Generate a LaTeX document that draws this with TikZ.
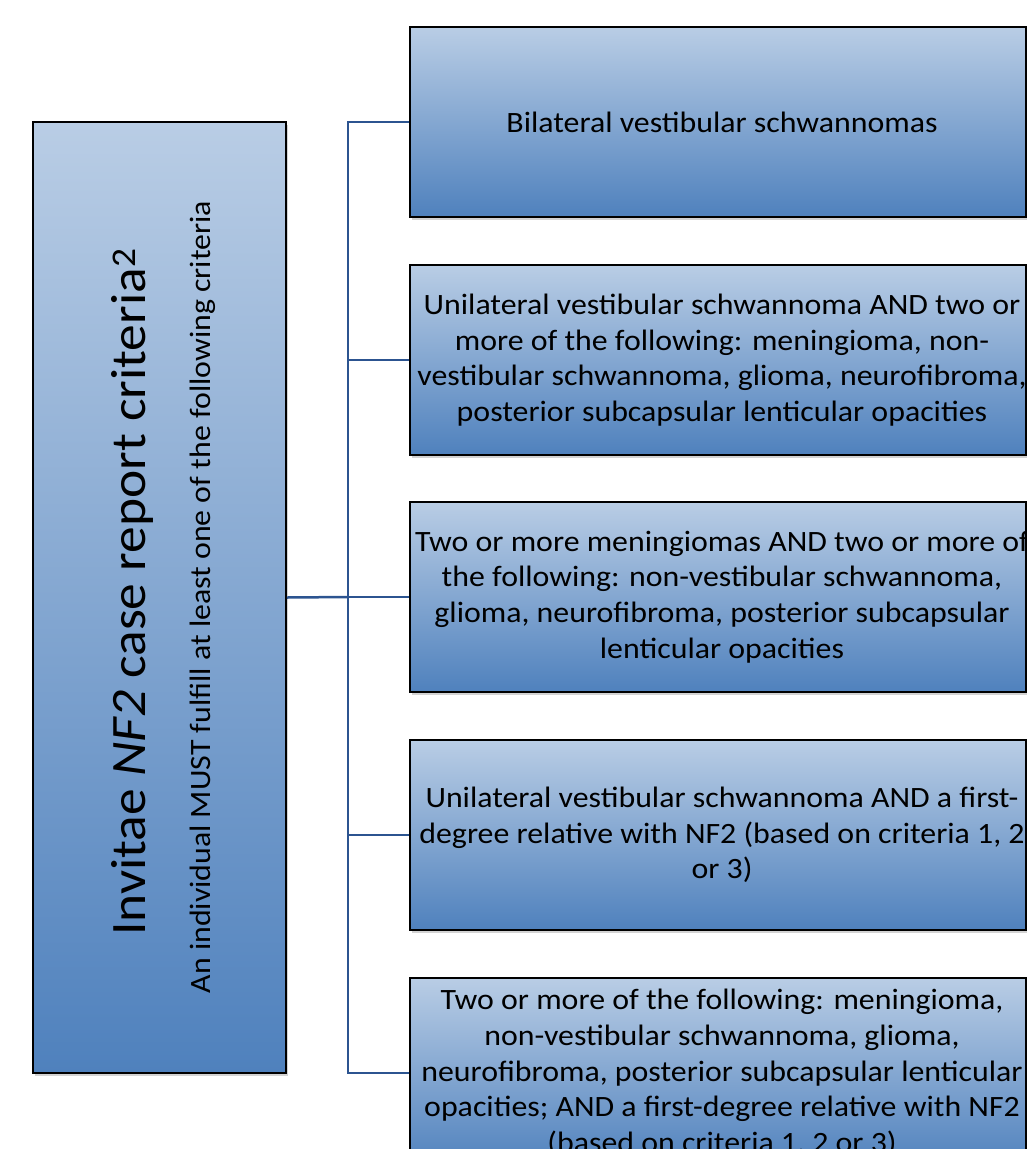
\documentclass[tikz,border=0pt]{standalone}
\usepackage{fontspec}
\setmainfont[FakeStretch=1.08]{Carlito}
\usetikzlibrary{shadows}
\definecolor{gtop}{HTML}{B9CDE5}
\definecolor{gbot}{HTML}{4F81BD}
\definecolor{conn}{HTML}{2C5490}
\tikzset{
  critbox/.style={draw=black, line width=1.8pt, top color=gtop, bottom color=gbot,
    minimum width=616pt, minimum height=190pt, inner sep=0pt,
    drop shadow={opacity=0.35, shadow xshift=2pt, shadow yshift=-3pt}},
  crittext/.style={inner sep=0pt, align=center, font=\fontsize{29.5}{35.7}\selectfont},
  mainbox/.style={draw=black, line width=1.8pt, top color=gtop, bottom color=gbot,
    minimum width=253pt, minimum height=951pt, inner sep=0pt,
    drop shadow={opacity=0.35, shadow xshift=2pt, shadow yshift=-3pt}},
  link/.style={draw=conn, line width=2.5pt},
}
\begin{document}
\begin{tikzpicture}[x=1pt,y=-1pt]
\useasboundingbox (0,0) rectangle (1027,1149);
\clip (0,0) rectangle (1027,1149);
\node[mainbox] (main) at (159.5,597.5) {};
\node[rotate=90, anchor=base, font=\fontsize{49.5}{55}\selectfont, inner sep=0pt] (title) at (145,592) {Invitae \textit{NF2} case report criteria\textsuperscript{2}};
\node[rotate=90, anchor=base, font=\fontsize{29.5}{35}\selectfont, inner sep=0pt] (sub) at (210,597) {An individual MUST fulfill at least one of the following criteria};

\node[critbox] (c1) at (718,122) {};
\node[critbox] (c2) at (718,360) {};
\node[critbox] (c3) at (718,597) {};
\node[critbox] (c4) at (718,835) {};
\node[critbox] (c5) at (718,1073) {};

\node[crittext] (t1) at ([xshift=4pt]c1.center) {Bilateral vestibular schwannomas};
\node[crittext] (t2) at ([xshift=4pt]c2.center) {Unilateral vestibular schwannoma AND two or\\more of the following: meningioma, non-\\vestibular schwannoma, glioma, neurofibroma,\\posterior subcapsular lenticular opacities};
\node[crittext] (t3) at ([xshift=4pt]c3.center) {Two or more meningiomas AND two or more of\\the following: non-vestibular schwannoma,\\glioma, neurofibroma, posterior subcapsular\\lenticular opacities};
\node[crittext] (t4) at ([xshift=4pt]c4.center) {Unilateral vestibular schwannoma AND a first-\\degree relative with NF2 (based on criteria 1, 2\\or 3)};
\node[crittext] (t5) at ([xshift=4pt]c5.center) {Two or more of the following: meningioma,\\non-vestibular schwannoma, glioma,\\neurofibroma, posterior subcapsular lenticular\\opacities; AND a first-degree relative with NF2\\(based on criteria 1, 2 or 3)};

\coordinate (bus) at (348,597);
\draw[link] (main.east) -- (bus);
\draw[link] (c1.west) -| (bus);
\draw[link] (c2.west) -| (bus);
\draw[link] (c3.west) -- (bus);
\draw[link] (c4.west) -| (bus);
\draw[link] (c5.west) -| (bus);
\end{tikzpicture}
\end{document}
